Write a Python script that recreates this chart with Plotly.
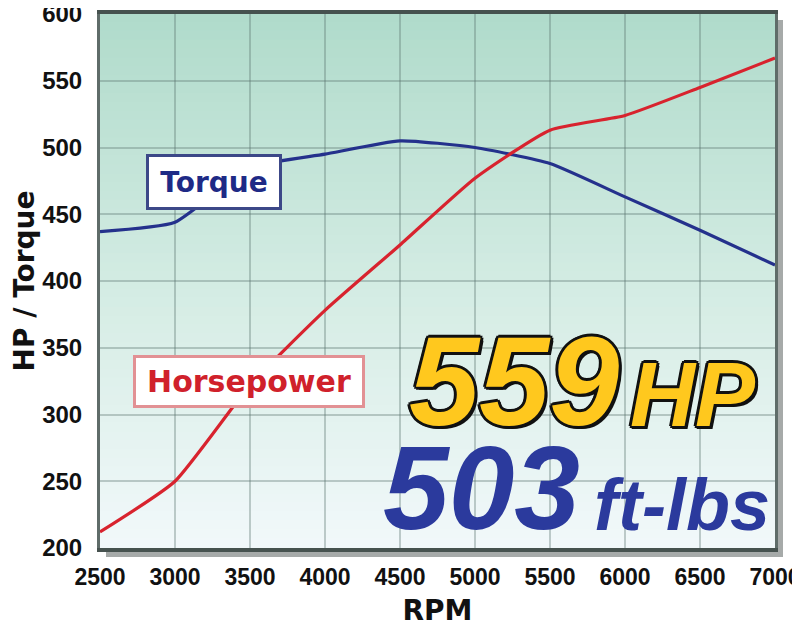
import plotly.graph_objects as go

rpm = [2500, 3000, 3500, 4000, 4500, 5000, 5500, 6000, 6500, 7000]
horsepower = [212, 250, 322, 378, 427, 477, 513, 524, 545, 567]
torque = [437, 444, 485, 495, 505, 500, 488, 463, 438, 412]

x_ticks = [2500, 3000, 3500, 4000, 4500, 5000, 5500, 6000, 6500, 7000]
y_ticks = [200, 250, 300, 350, 400, 450, 500, 550, 600]

peak_hp_text = "559"
peak_tq_text = "503"

BIG = "Liberation Sans, Arial"
LABEL = "DejaVu Sans, Verdana"

fig = go.Figure()

fig.add_trace(go.Scatter(x=rpm, y=torque, mode="lines", name="Torque",
                         line=dict(color="#24318c", width=3.2, shape="spline", smoothing=0.5),
                         showlegend=False, hoverinfo="x+y"))
fig.add_trace(go.Scatter(x=rpm, y=horsepower, mode="lines", name="Horsepower",
                         line=dict(color="#d8232e", width=3.2, shape="spline", smoothing=0.5),
                         showlegend=False, hoverinfo="x+y"))

# background gradient (teal at top -> near white at bottom)
stops = [(0.0, (176, 219, 203)), (0.55, (214, 237, 229)), (1.0, (241, 248, 250))]
def col(t):
    for (t0, c0), (t1, c1) in zip(stops[:-1], stops[1:]):
        if t0 <= t <= t1:
            f = (t - t0) / (t1 - t0)
            return "rgb(%d,%d,%d)" % tuple(round(a + (b - a) * f) for a, b in zip(c0, c1))
    return "rgb(%d,%d,%d)" % stops[-1][1]

n = 60
shapes = []
# drop shadow of the frame
shapes.append(dict(type="rect", xref="paper", yref="paper",
                   x0=6 / 675, x1=1 + 8 / 675, y0=-9 / 534, y1=1 - 6 / 534,
                   fillcolor="#a6aaa9", line=dict(width=0), layer="below"))
for i in range(n):
    t = i / (n - 1)
    shapes.append(dict(type="rect", xref="x domain", yref="y domain",
                       x0=0, x1=1, y0=1 - (i + 1) / n, y1=1 - i / n + 0.002,
                       fillcolor=col(t), line=dict(width=0), layer="below"))

outline = ("-2px -2px 0 #111, 2px -2px 0 #111, -2px 2px 0 #111, 2px 2px 0 #111, "
           "0 3px 0 #111, 3px 0 0 #111, -3px 0 0 #111, 0 -3px 0 #111, 3px 3px 0 #111")

annotations = [
    dict(x=3257, y=474, text="Torque", showarrow=False, xanchor="center", yanchor="middle",
         font=dict(family=LABEL, size=28, color="#1e2a86", weight="bold"),
         bgcolor="white", bordercolor="#3c4888", borderwidth=3, borderpad=1, width=128, height=48),
    dict(x=3493, y=324.7, text="Horsepower", showarrow=False, xanchor="center", yanchor="middle",
         font=dict(family=LABEL, size=30, color="#d0212b", weight="bold"),
         bgcolor="white", bordercolor="#e29194", borderwidth=3, borderpad=1, width=224, height=45),
    dict(x=5263, y=324.5, text=peak_hp_text, showarrow=False, xanchor="center", yanchor="middle",
         font=dict(family=BIG, size=126, color="#ffc81e", weight="bold", style="italic", shadow=outline)),
    dict(x=6450, y=314.5, text="HP", showarrow=False, xanchor="center", yanchor="middle",
         font=dict(family=BIG, size=90, color="#ffc81e", weight="bold", style="italic", shadow=outline)),
    dict(x=5045, y=245, text=peak_tq_text, showarrow=False, xanchor="center", yanchor="middle",
         font=dict(family=BIG, size=118, color="#2b3a9d", weight="bold", style="italic")),
    dict(x=6380, y=232.2, text="ft-lbs", showarrow=False, xanchor="center", yanchor="middle",
         font=dict(family=BIG, size=72, color="#2b3a9d", weight="bold", style="italic")),
]

# the page body adds an 8px offset; size the figure so the plot area lands where the reference has it
fig.update_layout(
    width=792, height=619,
    margin=dict(l=92, r=25, t=6, b=79),
    paper_bgcolor="white", plot_bgcolor="rgba(0,0,0,0)",
    shapes=shapes, annotations=annotations,
    xaxis=dict(range=[2500, 7000], tickvals=x_ticks, ticktext=[str(v) for v in x_ticks],
               tickfont=dict(family="Liberation Sans, Arial", size=23, color="#111111", weight="bold"),
               showgrid=True, gridcolor="rgba(90,115,108,0.35)", gridwidth=2,
               showline=True, linecolor="#46524f", linewidth=4, mirror=True, zeroline=False,
               ticks="", ticklabelstandoff=5, automargin=False, ticklabeloverflow="allow",
               title=dict(text="RPM", font=dict(family=LABEL, size=28, color="#111111",
                                                weight="bold"), standoff=16)),
    yaxis=dict(range=[200, 600], tickvals=y_ticks, ticktext=[str(v) for v in y_ticks],
               tickfont=dict(family="Liberation Sans, Arial", size=24, color="#111111", weight="bold"),
               showgrid=True, gridcolor="rgba(90,115,108,0.35)", gridwidth=2,
               showline=True, linecolor="#5f6c69", linewidth=3, mirror=True, zeroline=False,
               ticks="", ticklabelstandoff=10, automargin=False, ticklabeloverflow="allow",
               title=dict(text="HP / Torque", font=dict(family=LABEL, size=28,
                                                         color="#111111", weight="bold"), standoff=16)),
)

fig.write_html("out.html")
